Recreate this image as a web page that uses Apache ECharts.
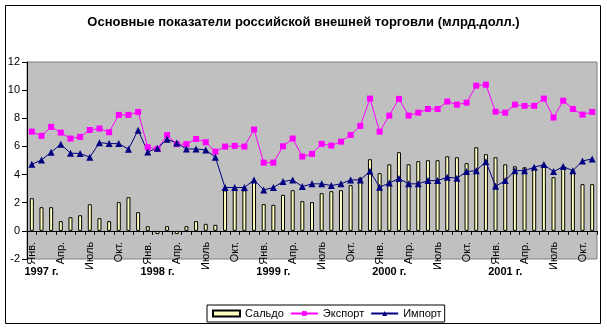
<!DOCTYPE html>
<html><head><meta charset="utf-8">
<script src="https://cdn.jsdelivr.net/npm/echarts@6/dist/echarts.min.js"></script>
<style>html,body{margin:0;padding:0;background:#fff}#c{width:607px;height:330px}</style>
</head><body><div id="c"></div>
<script>
const monthNames = ['Янв.','Фев.','Март','Апр.','Май','Июнь','Июль','Авг.','Сент.','Окт.','Нояб.','Дек.'];
const yearLabels = ['1997 г.','1998 г.','1999 г.','2000 г.','2001 г.'];
const startYear = 1997;
const saldo = [2.32,1.68,1.68,0.69,0.97,1.11,1.89,0.9,0.69,2.04,2.39,1.33,
  0.33,-0.23,0.33,-0.23,0.33,0.69,0.5,0.43,2.88,2.9,2.88,3.52,
  1.9,1.85,2.56,2.89,2.11,2.04,2.68,2.82,2.89,3.25,3.79,5.09,
  4.1,4.73,5.59,4.73,4.95,5.02,5.02,5.3,5.23,4.81,5.94,5.45,
  5.23,4.73,4.59,4.52,4.45,4.7,3.81,4.6,4.33,3.32,3.32];
const exportVals = [7.05,6.75,7.39,6.98,6.56,6.68,7.17,7.27,7.01,8.24,8.24,8.45,
  5.94,5.82,6.8,6.16,6.16,6.53,6.3,5.63,5.99,6.04,5.99,7.2,
  4.85,4.85,6.01,6.56,5.28,5.47,6.18,6.06,6.34,6.82,7.46,9.4,
  7.05,8.19,9.38,8.19,8.4,8.66,8.66,9.19,8.97,9.11,10.32,10.39,
  8.47,8.4,8.97,8.88,8.88,9.4,8.05,9.25,8.66,8.26,8.45];
const importVals = [4.73,5.04,5.59,6.16,5.52,5.5,5.23,6.27,6.2,6.2,5.8,7.15,
  5.61,5.87,6.51,6.25,5.82,5.82,5.75,5.23,3.08,3.08,3.08,3.62,
  2.91,3.08,3.5,3.62,3.15,3.34,3.34,3.22,3.34,3.62,3.62,4.24,
  3.1,3.4,3.72,3.34,3.34,3.57,3.57,3.81,3.74,4.21,4.28,4.92,
  3.17,3.57,4.28,4.28,4.52,4.71,4.21,4.57,4.28,4.97,5.11];
const categories = saldo.map((_, i) => monthNames[i % 12] + ' ' + (startYear + Math.floor(i / 12)));
const FONT = '"Liberation Sans", Arial, sans-serif';
const Y_MIN = -2, Y_MAX = 12;
const GRID = {left: 27, right: 10, top: 62, bottom: 71};
const plotH = 330 - GRID.top - GRID.bottom;
const zeroOffset = -plotH * (0 - Y_MIN) / (Y_MAX - Y_MIN);

const chart = echarts.init(document.getElementById('c'), null, {renderer: 'canvas'});
chart.setOption({
  animation: false,
  backgroundColor: '#fff',
  title: {
    text: 'Основные показатели российской внешней торговли (млрд.долл.)',
    left: 'center', top: 16, padding: 0,
    textStyle: {fontFamily: FONT, fontSize: 13, fontWeight: 'bold', color: '#000'}
  },
  graphic: [{
    type: 'rect', silent: true, z: 100,
    shape: {x: 5.5, y: 5.5, width: 595, height: 318},
    style: {fill: 'none', stroke: '#000', lineWidth: 1}
  }],
  legend: {
    left: 207, top: 305,
    padding: [3, 3, 3, 5], itemGap: 6, itemWidth: 27, itemHeight: 6,
    borderColor: '#000', borderWidth: 1,
    textStyle: {fontFamily: FONT, fontSize: 11, color: '#000'},
    data: [{name: 'Сальдо', icon: 'rect'}, {name: 'Экспорт'}, {name: 'Импорт'}]
  },
  grid: {
    left: GRID.left, right: GRID.right, top: GRID.top, bottom: GRID.bottom,
    show: true, backgroundColor: '#C0C0C0', borderColor: '#808080', borderWidth: 1
  },
  xAxis: [{
    type: 'category', data: categories, boundaryGap: true, position: 'bottom',
    offset: zeroOffset,
    axisLine: {onZero: false, lineStyle: {color: '#000', width: 1}},
    axisTick: {show: true, interval: 0, length: 4, lineStyle: {color: '#000'}},
    axisLabel: {
      interval: (i) => i % 3 === 0,
      formatter: (v, i) => monthNames[i % 12],
      rotate: 90, margin: 11,
      fontFamily: FONT, fontSize: 11, color: '#000'
    },
    splitLine: {show: false}
  }, {
    type: 'category', data: categories, boundaryGap: true, position: 'bottom',
    axisLine: {show: false, onZero: false},
    axisTick: {show: false},
    axisLabel: {
      interval: (i) => i % 12 === 1,
      formatter: (v, i) => yearLabels[Math.floor(i / 12)],
      margin: 7,
      fontFamily: FONT, fontSize: 11, fontWeight: 'bold', color: '#000'
    },
    splitLine: {show: false}
  }],
  yAxis: {
    type: 'value', min: Y_MIN, max: Y_MAX, interval: 2,
    axisLine: {show: true, lineStyle: {color: '#000', width: 1}},
    axisTick: {show: true, length: 5, lineStyle: {color: '#000'}},
    axisLabel: {margin: 7, fontFamily: FONT, fontSize: 11, color: '#000'},
    splitLine: {show: false}
  },
  series: [{
    name: 'Сальдо', type: 'bar', data: saldo, barWidth: 4,
    itemStyle: {color: '#FFFFC0', borderColor: '#000', borderWidth: 1}
  }, {
    name: 'Экспорт', type: 'line', data: exportVals,
    symbol: 'rect', symbolSize: 6, showAllSymbol: true,
    lineStyle: {color: '#FF00FF', width: 1},
    itemStyle: {color: '#FF00FF'}
  }, {
    name: 'Импорт', type: 'line', data: importVals,
    symbol: 'triangle', symbolSize: 7, showAllSymbol: true,
    lineStyle: {color: '#000080', width: 1},
    itemStyle: {color: '#000080'}
  }]
});
</script>
</body></html>
